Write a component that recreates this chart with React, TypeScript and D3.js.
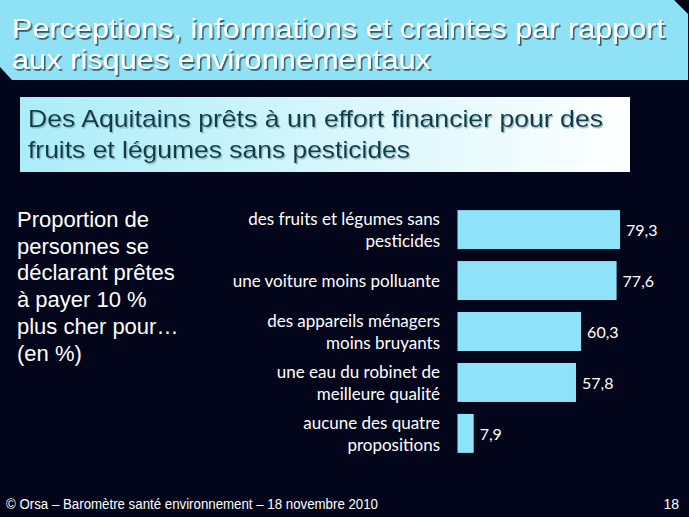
import { useEffect, useRef } from 'react';
import * as d3 from 'd3';

const categories = [
  ['des fruits et légumes sans', 'pesticides'],
  ['une voiture moins polluante'],
  ['des appareils ménagers', 'moins bruyants'],
  ['une eau du robinet de', 'meilleure qualité'],
  ['aucune des quatre', 'propositions'],
];
const values = [79.3, 77.6, 60.3, 57.8, 7.9];
const titleLines = ['Perceptions, informations et craintes par rapport', 'aux risques environnementaux'];
const subtitleLines = ['Des Aquitains prêts à un effort financier pour des', 'fruits et légumes sans pesticides'];
const sideLines = ['Proportion de', 'personnes se', 'déclarant prêtes', 'à payer 10 %', 'plus cher pour…', '(en %)'];
const footer = '© Orsa – Baromètre santé environnement – 18 novembre 2010';
const pageNo = '18';

const W = 689;
const H = 517;
const sans = '"Liberation Sans", Arial, sans-serif';
const body = 'Lato, "Open Sans", sans-serif';

export default function App() {
  const svgRef = useRef<SVGSVGElement>(null);

  useEffect(() => {
    if (!svgRef.current) return;
    const svg = d3.select(svgRef.current);
    svg.selectAll('*').remove();

    const defs = svg.append('defs');
    const shadow = defs.append('filter').attr('id', 'shadow').attr('x', '-5%').attr('y', '-20%').attr('width', '110%').attr('height', '150%');
    shadow.append('feDropShadow').attr('dx', 1.5).attr('dy', 1.8).attr('stdDeviation', 0.7).attr('flood-color', '#1d4452').attr('flood-opacity', 0.85);
    const shadow2 = defs.append('filter').attr('id', 'shadow2').attr('x', '-5%').attr('y', '-20%').attr('width', '110%').attr('height', '150%');
    shadow2.append('feDropShadow').attr('dx', 1.2).attr('dy', 1.4).attr('stdDeviation', 0.6).attr('flood-color', '#7fa6ad').attr('flood-opacity', 0.8);
    const grad = defs.append('linearGradient').attr('id', 'subgrad').attr('x1', 0).attr('x2', 1).attr('y1', 0).attr('y2', 0);
    grad.append('stop').attr('offset', '0%').attr('stop-color', '#aaedf8');
    grad.append('stop').attr('offset', '100%').attr('stop-color', '#ffffff');

    // background
    svg.append('rect').attr('width', W).attr('height', H).attr('fill', '#03051a');

    // title banner
    svg.append('path')
      .attr('d', 'M0,0 L674,0 L688,14 L688,80 L12,80 L0,67 Z')
      .attr('fill', '#8fe1f5');
    const titleWidths = [653, 419];
    svg.append('g')
      .attr('filter', 'url(#shadow)')
      .selectAll('text')
      .data(titleLines)
      .join('text')
      .attr('x', 12)
      .attr('y', (_, i) => 38 + i * 31)
      .attr('fill', '#ffffff')
      .attr('font-family', sans)
      .attr('font-size', 28)
      .attr('textLength', (_, i) => titleWidths[i])
      .attr('lengthAdjust', 'spacingAndGlyphs')
      .text((d) => d);

    // subtitle box
    svg.append('rect').attr('x', 20).attr('y', 97).attr('width', 610).attr('height', 75).attr('fill', 'url(#subgrad)');
    const subWidths = [575, 382];
    svg.append('g')
      .attr('filter', 'url(#shadow2)')
      .selectAll('text')
      .data(subtitleLines)
      .join('text')
      .attr('x', 28)
      .attr('y', (_, i) => 127 + i * 31)
      .attr('fill', '#0d3c4c')
      .attr('font-family', sans)
      .attr('font-size', 24)
      .attr('textLength', (_, i) => subWidths[i])
      .attr('lengthAdjust', 'spacingAndGlyphs')
      .text((d) => d);

    // side text
    svg.append('g')
      .selectAll('text')
      .data(sideLines)
      .join('text')
      .attr('x', 17)
      .attr('y', (_, i) => 227 + i * 26.7)
      .attr('fill', '#ffffff')
      .attr('font-family', sans)
      .attr('font-size', 22)
      .text((d) => d);

    // bar chart
    const x = d3.scaleLinear().domain([0, 100]).range([457.5, 457.5 + 205]);
    const y = d3.scaleBand<number>()
      .domain(d3.range(values.length))
      .range([204, 459])
      .paddingInner(0.235)
      .paddingOuter(0.12);

    const g = svg.append('g');
    g.selectAll('rect.bar')
      .data(values)
      .join('rect')
      .attr('class', 'bar')
      .attr('x', x(0))
      .attr('y', (_, i) => y(i)!)
      .attr('width', (d) => x(d) - x(0))
      .attr('height', y.bandwidth())
      .attr('fill', '#8fe3f8');

    g.selectAll('text.val')
      .data(values)
      .join('text')
      .attr('class', 'val')
      .attr('x', (d) => x(d) + 6)
      .attr('y', (_, i) => y(i)! + y.bandwidth() / 2)
      .attr('dominant-baseline', 'central')
      .attr('fill', '#ffffff')
      .attr('font-family', body)
      .attr('font-size', 16)
      .text((d) => d.toFixed(1).replace('.', ','));

    categories.forEach((lines, i) => {
      const cy = y(i)! + y.bandwidth() / 2;
      const lh = 22;
      const y0 = cy - ((lines.length - 1) * lh) / 2;
      g.append('text')
        .attr('text-anchor', 'end')
        .attr('fill', '#ffffff')
        .attr('font-family', body)
        .attr('font-size', 17)
        .selectAll('tspan')
        .data(lines)
        .join('tspan')
        .attr('x', 440)
        .attr('y', (_, j) => y0 + j * lh)
        .attr('dominant-baseline', 'central')
        .text((d) => d);
    });

    // footer
    svg.append('text')
      .attr('x', 6)
      .attr('y', 509)
      .attr('fill', '#ffffff')
      .attr('font-family', sans)
      .attr('font-size', 14)
      .attr('textLength', 372)
      .attr('lengthAdjust', 'spacingAndGlyphs')
      .text(footer);
    svg.append('text')
      .attr('x', 679)
      .attr('y', 509)
      .attr('text-anchor', 'end')
      .attr('fill', '#ffffff')
      .attr('font-family', sans)
      .attr('font-size', 14)
      .text(pageNo);
  }, []);

  return (
    <svg
      ref={svgRef}
      width={W}
      height={H}
      style={{ position: 'fixed', left: 0, top: 0, display: 'block' }}
    />
  );
}
